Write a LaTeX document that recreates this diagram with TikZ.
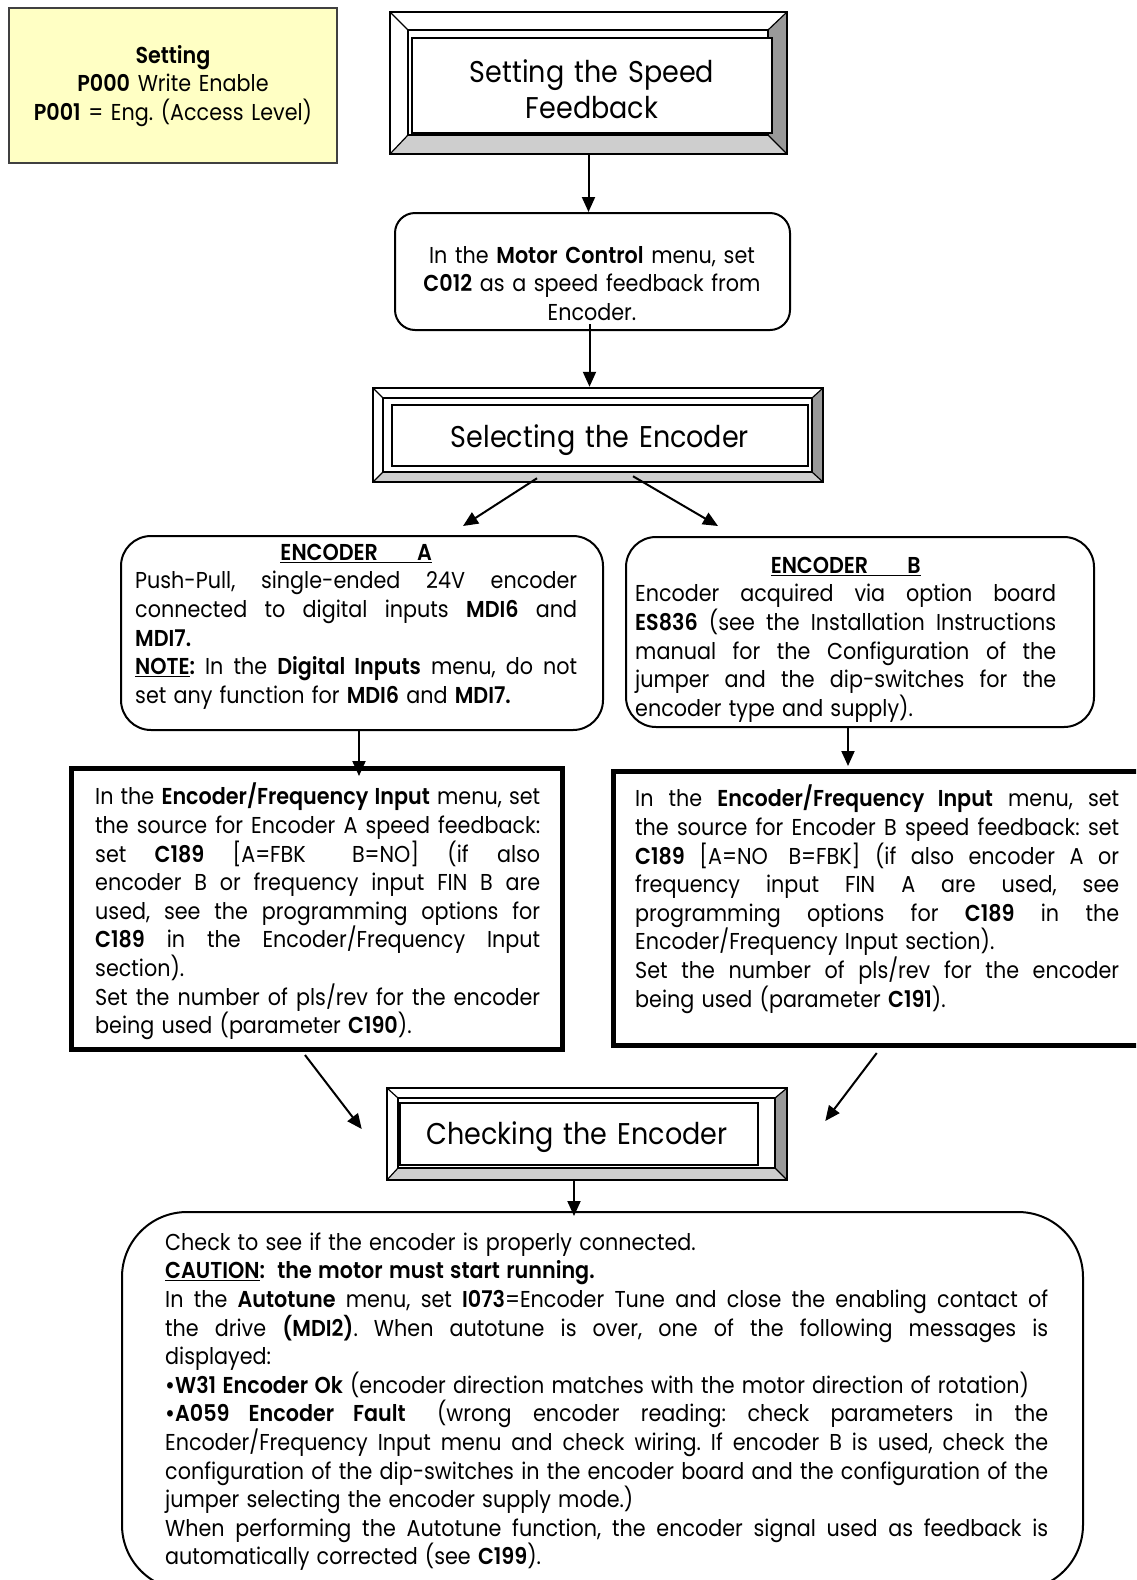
\documentclass[tikz,border=0pt]{standalone}
\usepackage{fontspec}
\setmainfont{Poppins}[FakeStretch=0.90, WordSpace=1.3, BoldFont={Poppins SemiBold}]
\usetikzlibrary{arrows.meta}
\setlength\parindent{0pt}
\frenchspacing
\hbadness=10000
\hfuzz=60pt
\definecolor{notefill}{RGB}{255,255,196}
\definecolor{bevdark}{RGB}{153,153,153}
\definecolor{bevlight}{RGB}{206,206,206}
% one justified line spread over the full measure
\newcommand\jl[1]{\makebox[\hsize][s]{#1}\par}
\newcommand\bodyfont{\fontsize{23}{28.6}\selectfont}
\newcommand\headfont{\fontsize{30}{36}\selectfont}
% bevelled frame: outer x1 y1 x2 y2, inner edge x1 y1 x2 y2
\newcommand\bevel[8]{%
  \fill[white] (#1,#2) -- (#3,#2) -- (#7,#6) -- (#5,#6) -- cycle;
  \fill[white] (#1,#2) -- (#5,#6) -- (#5,#8) -- (#1,#4) -- cycle;
  \fill[bevdark] (#3,#2) -- (#3,#4) -- (#7,#8) -- (#7,#6) -- cycle;
  \fill[bevlight] (#1,#4) -- (#3,#4) -- (#7,#8) -- (#5,#8) -- cycle;
  \draw[line width=1.2pt] (#1,#2) -- (#5,#6) (#3,#2) -- (#7,#6)
        (#1,#4) -- (#5,#8) (#3,#4) -- (#7,#8);
  \draw[line width=1.2pt] (#5,#6) rectangle (#7,#8);
}
\tikzset{
  note/.style={draw=black!75, line width=1.7pt, fill=notefill, inner sep=0},
  frame/.style={draw, line width=2.5pt, inner sep=0},
  tbox/.style={draw, fill=white, line width=2pt, inner sep=0},
  rbox/.style={draw, line width=2pt, rounded corners=#1, inner sep=0},
  thickbox/.style={draw, line width=5pt, inner sep=0},
  txt/.style={inner sep=0, anchor=north west, text width=#1, align=justify, font=\bodyfont},
  ctxt/.style={inner sep=0, anchor=north, text width=#1, align=center, font=\bodyfont},
  htxt/.style={inner sep=0, anchor=north, text width=#1, align=center, font=\headfont},
  arr/.style={line width=2pt, -{Triangle[length=15pt,width=13pt]}},
}
\begin{document}
\begin{tikzpicture}[x=1pt,y=-1pt]
\useasboundingbox (0,0) rectangle (1136,1580);
\fill[white] (0,0) rectangle (1136,1580);
\clip (0,0) rectangle (1136,1580);

% access level note
\node[note, minimum width=328, minimum height=155] (acc) at (173,85.5) {};
\node[ctxt=320] (acctext) at (173,43) {\strut\textbf{Setting}\\\textbf{P000} Write Enable\\\textbf{P001} = Eng. (Access Level)};

% heading 1
\bevel{390}{12}{787}{154}{408}{30}{768}{135}
\node[frame, minimum width=397, minimum height=142] (f1) at (588.5,83) {};
\node[tbox, minimum width=360, minimum height=95] (t1) at (592,85.5) {};
\node[htxt=350] (t1text) at (592,57) {\strut Setting the Speed\\Feedback};

% motor control step
\node[rbox=20pt, minimum width=395, minimum height=117] (m) at (592.5,271.5) {};
\node[ctxt=380] (mtext) at (592,243) {\strut In the \textbf{Motor Control} menu, set\\\textbf{C012} as a speed feedback from\\Encoder.};

% heading 2
\bevel{373}{388}{823}{482}{383}{398}{812}{472}
\node[frame, minimum width=450, minimum height=94] (f2) at (598,435) {};
\node[tbox, minimum width=416, minimum height=61] (t2) at (600,435.5) {};
\node[htxt=400] (t2text) at (600,422) {\strut Selecting the Encoder};

% encoder A
\node[rbox=30pt, minimum width=482, minimum height=194] (a) at (362,633) {};
\node[txt=442] (atext) at (135,540) {\strut\makebox[\hsize][c]{\textbf{\underline{ENCODER\hspace{1.7em}A}}}\par
\jl{Push-Pull, single-ended 24V encoder}
\jl{connected to digital inputs \textbf{MDI6} and}
\textbf{MDI7.}\par
\jl{\underline{\textbf{NOTE}}\textbf{:} In the \textbf{Digital Inputs} menu, do not}
set any function for \textbf{MDI6} and \textbf{MDI7.}};

% encoder B
\node[rbox=30pt, minimum width=468, minimum height=190] (b) at (860,632) {};
\node[txt=421] (btext) at (635,553) {\strut\makebox[\hsize][c]{\textbf{\underline{ENCODER\hspace{1.7em}B}}}\par
\jl{Encoder acquired via option board}
\jl{\textbf{ES836} (see the Installation Instructions}
\jl{manual for the Configuration of the}
\jl{jumper and the dip-switches for the}
encoder type and supply).};

% encoder A source
\node[thickbox, minimum width=491, minimum height=281] (L) at (317,909) {};
\node[txt=445] (Ltext) at (95,783) {\strut
\jl{In the \textbf{Encoder/Frequency Input} menu, set}
\jl{the source for Encoder A speed feedback:}
\jl{set \textbf{C189} [A=FBK\hspace{18pt} B=NO] (if also}
\jl{encoder B or frequency input FIN B are}
\jl{used, see the programming options for}
\jl{\textbf{C189} in the Encoder/Frequency Input}
section).\par
\jl{Set the number of pls/rev for the encoder}
being used (parameter \textbf{C190}).};

% encoder B source
\node[thickbox, minimum width=536.5, minimum height=274] (R) at (881.75,908.5) {};
\node[txt=484] (Rtext) at (635,785) {\strut
\jl{In the \textbf{Encoder/Frequency Input} menu, set}
\jl{the source for Encoder B speed feedback: set}
\jl{\textbf{C189} [A=NO\hspace{6pt} B=FBK] (if also encoder A or}
\jl{frequency input FIN A are used, see}
\jl{programming options for \textbf{C189} in the}
Encoder/Frequency Input section).\par
\jl{Set the number of pls/rev for the encoder}
being used (parameter \textbf{C191}).};

% heading 3
\bevel{387}{1088}{787}{1180}{398}{1098}{775}{1168}
\node[frame, minimum width=400, minimum height=92] (f3) at (587,1134) {};
\node[tbox, minimum width=358, minimum height=62] (t3) at (579,1134) {};
\node[htxt=350] (t3text) at (577,1119) {\strut Checking the Encoder};

% encoder check
\node[rbox=65pt, minimum width=961, minimum height=378] (B) at (602.5,1401) {};
\node[txt=883] (Btext) at (165,1230) {\strut Check to see if the encoder is properly connected.\par
\underline{\textbf{CAUTION}}\textbf{:\hspace{6pt} the motor must start running.}\par
\jl{In the \textbf{Autotune} menu, set \textbf{I073}=Encoder Tune and close the enabling contact of}
\jl{the drive \textbf{(MDI2)}. When autotune is over, one of the following messages is}
displayed:\par
\textbf{•W31 Encoder Ok} (encoder direction matches with the motor direction of rotation)\par
\jl{\textbf{•A059 Encoder Fault}\hspace{10pt} (wrong encoder reading: check parameters in the}
\jl{Encoder/Frequency Input menu and check wiring. If encoder B is used, check the}
\jl{configuration of the dip-switches in the encoder board and the configuration of the}
jumper selecting the encoder supply mode.)\par
\jl{When performing the Autotune function, the encoder signal used as feedback is}
automatically corrected (see \textbf{C199}).};

% connectors
\draw[arr] (f1.south) -- (f1.south |- m.north);
\draw[arr] ([xshift=-3pt,yshift=7pt]m.south) -- ([xshift=-3pt]m.south |- f2.north);
\draw[arr] ([xshift=-61pt,yshift=5pt]f2.south) -- ([xshift=101pt,yshift=9pt]a.north);
\draw[arr] ([xshift=35pt,yshift=7pt]f2.south) -- ([xshift=-142pt,yshift=10pt]b.north);
\draw[arr] ([xshift=-3pt]a.south) -- ([xshift=-3pt,yshift=-10pt]a.south |- L.north);
\draw[arr] ([xshift=-12pt]b.south) -- ([xshift=-12pt,yshift=3pt]b.south |- R.north);
\draw[arr] ([xshift=-12pt,yshift=-3pt]L.south) -- ([xshift=-24pt,yshift=5pt]f3.west);
\draw[arr] ([xshift=-5pt,yshift=-5pt]R.south) -- ([xshift=37pt,yshift=13pt]f3.east);
\draw[arr] ([xshift=-13pt]f3.south) -- ([xshift=-13pt,yshift=-5pt]f3.south |- B.north);
\end{tikzpicture}
\end{document}
